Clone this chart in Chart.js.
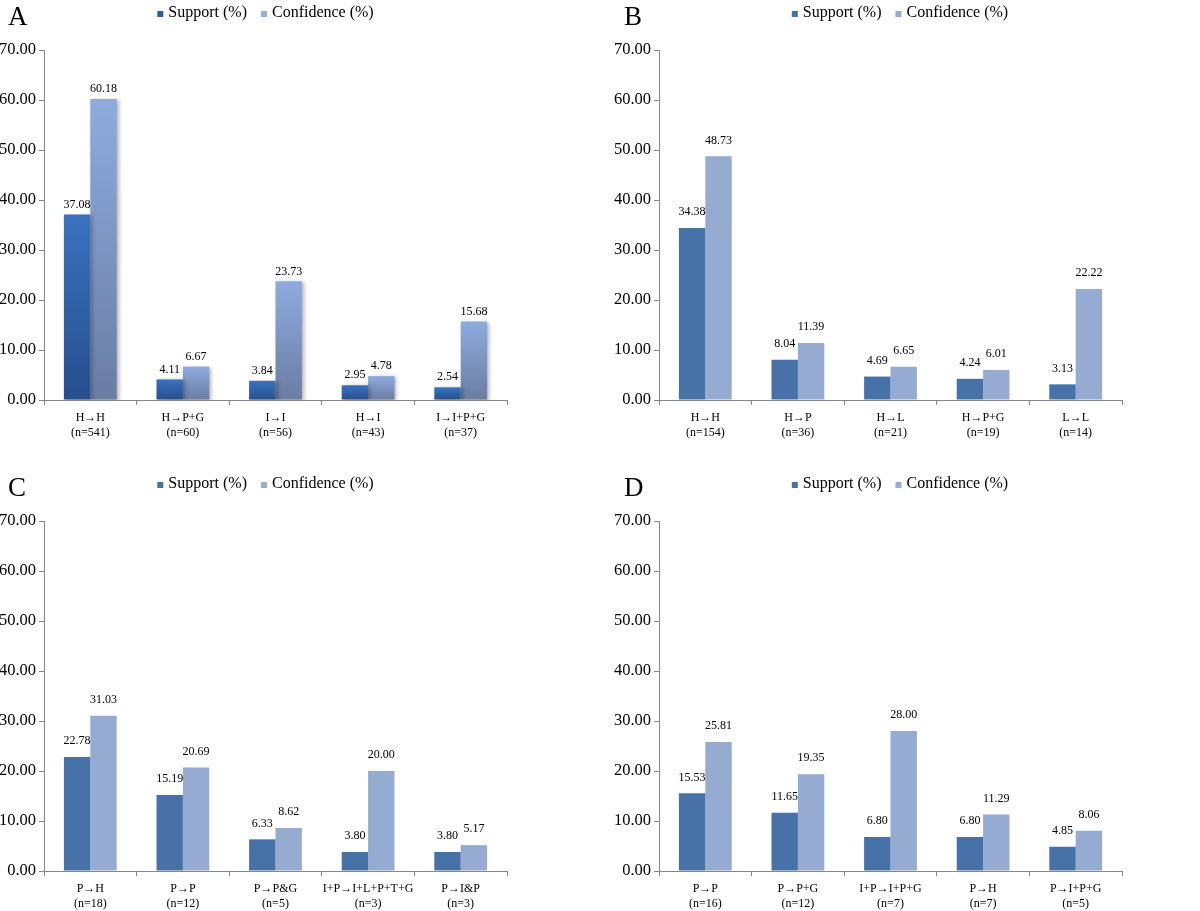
<!DOCTYPE html>
<html>
	<head>
		<meta charset="utf-8" />
		<title>Support and confidence of transition rules</title>
		<script src="https://cdn.jsdelivr.net/npm/chart.js@4.4.1/dist/chart.umd.min.js"></script>
		<style>
			body {
				margin: 0;
				background: #fff;
				width: 1200px;
				height: 911px;
				position: relative;
				overflow: hidden;
			}
			.panel {
				position: absolute;
			}
		</style>
	</head>

	<body>
		<div class="panel" style="left: 0; top: 0; width: 531px; height: 440px">
			<canvas id="chartA"></canvas>
		</div>
		<div class="panel" style="left: 600px; top: 0; width: 600px; height: 440px">
			<canvas id="chartB"></canvas>
		</div>
		<div class="panel" style="left: 0; top: 471px; width: 531px; height: 440px">
			<canvas id="chartC"></canvas>
		</div>
		<div class="panel" style="left: 600px; top: 471px; width: 600px; height: 440px">
			<canvas id="chartD"></canvas>
		</div>

		<script>
			// Panel A
			const labelsA = [["H→H", "(n=541)"], ["H→P+G", "(n=60)"], ["I→I", "(n=56)"], ["H→I", "(n=43)"], ["I→I+P+G", "(n=37)"]];
			const supportA = [37.08, 4.11, 3.84, 2.95, 2.54];
			const confidenceA = [60.18, 6.67, 23.73, 4.78, 15.68];

			// Panel B
			const labelsB = [["H→H", "(n=154)"], ["H→P", "(n=36)"], ["H→L", "(n=21)"], ["H→P+G", "(n=19)"], ["L→L", "(n=14)"]];
			const supportB = [34.38, 8.04, 4.69, 4.24, 3.13];
			const confidenceB = [48.73, 11.39, 6.65, 6.01, 22.22];

			// Panel C
			const labelsC = [["P→H", "(n=18)"], ["P→P", "(n=12)"], ["P→P&G", "(n=5)"], ["I+P→I+L+P+T+G", "(n=3)"], ["P→I&P", "(n=3)"]];
			const supportC = [22.78, 15.19, 6.33, 3.8, 3.8];
			const confidenceC = [31.03, 20.69, 8.62, 20.0, 5.17];

			// Panel D
			const labelsD = [["P→P", "(n=16)"], ["P→P+G", "(n=12)"], ["I+P→I+P+G", "(n=7)"], ["P→H", "(n=7)"], ["P→I+P+G", "(n=5)"]];
			const supportD = [15.53, 11.65, 6.8, 6.8, 4.85];
			const confidenceD = [25.81, 19.35, 28.0, 11.29, 8.06];

			const seriesNames = ["Support (%)", "Confidence (%)"];
			const yMin = 0;
			const yMax = 70;
			const yStep = 10;

			const FONT = '"Liberation Serif", "Times New Roman", serif';
			const AXIS_GREY = "#888888";

			// vertical gradient for one bar, from its top down to zero
			function barGradient(top, bottom) {
				return (ctx) => {
					const chart = ctx.chart;
					if (!chart.chartArea || ctx.raw === undefined) return top;
					const y = chart.scales.y;
					const y0 = y.getPixelForValue(ctx.raw);
					const y1 = y.getPixelForValue(0);
					if (!(y1 > y0)) return top;
					const g = chart.ctx.createLinearGradient(0, y0, 0, y1);
					g.addColorStop(0, top);
					g.addColorStop(1, bottom);
					return g;
				};
			}

			// panel letter, legend, value labels, optional bar shadow
			const panelDecor = {
				id: "panelDecor",
				beforeDatasetsDraw(chart, args, o) {
					if (!o.shadow) return;
					const ctx = chart.ctx;
					ctx.save();
					ctx.shadowColor = "rgba(0,0,0,0.3)";
					ctx.shadowBlur = 4;
					ctx.shadowOffsetX = 2;
					ctx.shadowOffsetY = 1;
				},
				afterDatasetsDraw(chart, args, o) {
					const ctx = chart.ctx;
					if (o.shadow) ctx.restore();
					ctx.save();
					ctx.font = "12px " + FONT;
					ctx.fillStyle = "#000";
					ctx.textAlign = "center";
					ctx.textBaseline = "middle";
					chart.data.datasets.forEach((ds, i) => {
						chart.getDatasetMeta(i).data.forEach((bar, j) => {
							ctx.fillText(ds.data[j].toFixed(2), bar.x, bar.y - o.labelGap);
						});
					});
					ctx.restore();
				},
				afterDraw(chart, args, o) {
					const ctx = chart.ctx;
					ctx.save();
					ctx.fillStyle = "#000";
					ctx.font = "27px " + FONT;
					ctx.textAlign = "left";
					ctx.textBaseline = "alphabetic";
					ctx.fillText(o.letter, o.letterX, 25);

					// legend, centred on the canvas
					ctx.font = "16px " + FONT;
					ctx.textBaseline = "middle";
					const box = 6, gap = 5, between = 14, ly = 13;
					const widths = chart.data.datasets.map((ds) => ctx.measureText(ds.label).width);
					let total = 0;
					widths.forEach((w, i) => {
						total += box + gap + w + (i < widths.length - 1 ? between : 0);
					});
					let x = (chart.width - total) / 2;
					chart.data.datasets.forEach((ds, i) => {
						ctx.fillStyle = o.legendColors[i];
						ctx.fillRect(x, ly - 2, box, box);
						ctx.fillStyle = "#000";
						ctx.fillText(ds.label, x + box + gap, ly);
						x += box + gap + widths[i] + between;
					});
					ctx.restore();
				},
			};

			function makeChart(id, labels, support, confidence, opt) {
				new Chart(document.getElementById(id), {
					type: "bar",
					data: {
						labels: labels,
						datasets: [
							{ label: seriesNames[0], data: support, backgroundColor: opt.colors[0], borderWidth: 0 },
							{ label: seriesNames[1], data: confidence, backgroundColor: opt.colors[1], borderWidth: 0 },
						],
					},
					options: {
						responsive: true,
						maintainAspectRatio: false,
						animation: false,
						datasets: {
							bar: { categoryPercentage: 0.57, barPercentage: 1.0 },
						},
						layout: {
							padding: { top: 50, right: opt.padRight, bottom: 0, left: 0 },
						},
						plugins: {
							legend: { display: false },
							tooltip: { enabled: false },
							panelDecor: {
								letter: opt.letter,
								letterX: opt.letterX,
								labelGap: opt.labelGap,
								shadow: opt.shadow,
								legendColors: opt.legendColors,
							},
						},
						scales: {
							x: {
								grid: {
									display: true,
									drawOnChartArea: false,
									offset: true,
									tickLength: 5,
									color: AXIS_GREY,
								},
								border: { color: AXIS_GREY, width: 1 },
								ticks: {
									color: "#000",
									padding: 5,
									maxRotation: 0,
									autoSkip: false,
									font: { family: FONT, size: 12, lineHeight: 1.25 },
								},
								afterFit: (s) => {
									s.height = 40;
								},
							},
							y: {
								min: yMin,
								max: yMax,
								grid: {
									display: true,
									drawOnChartArea: false,
									tickLength: 5,
									color: AXIS_GREY,
								},
								border: { color: AXIS_GREY, width: 1 },
								ticks: {
									stepSize: yStep,
									color: "#000",
									padding: 3,
									font: { family: FONT, size: 16.5 },
									callback: (v) => v.toFixed(2),
								},
								afterFit: (s) => {
									s.width = opt.axisWidth;
								},
							},
						},
					},
					plugins: [panelDecor],
				});
			}

			const flatColors = ["#4672A8", "#95ABD1"];

			makeChart("chartA", labelsA, supportA, confidenceA, {
				letter: "A",
				letterX: 8,
				axisWidth: 44,
				padRight: 24,
				labelGap: 10,
				shadow: true,
				colors: [barGradient("#3A72BF", "#264F8C"), barGradient("#8EABDE", "#6A7DA3")],
				legendColors: ["#2F5D9A", "#97B0D8"],
			});
			makeChart("chartB", labelsB, supportB, confidenceB, {
				letter: "B",
				letterX: 24,
				axisWidth: 59,
				padRight: 78,
				labelGap: 16,
				shadow: false,
				colors: flatColors,
				legendColors: flatColors,
			});
			makeChart("chartC", labelsC, supportC, confidenceC, {
				letter: "C",
				letterX: 8,
				axisWidth: 44,
				padRight: 24,
				labelGap: 16,
				shadow: false,
				colors: flatColors,
				legendColors: flatColors,
			});
			makeChart("chartD", labelsD, supportD, confidenceD, {
				letter: "D",
				letterX: 24,
				axisWidth: 59,
				padRight: 78,
				labelGap: 16,
				shadow: false,
				colors: flatColors,
				legendColors: flatColors,
			});
		</script>
	</body>
</html>
